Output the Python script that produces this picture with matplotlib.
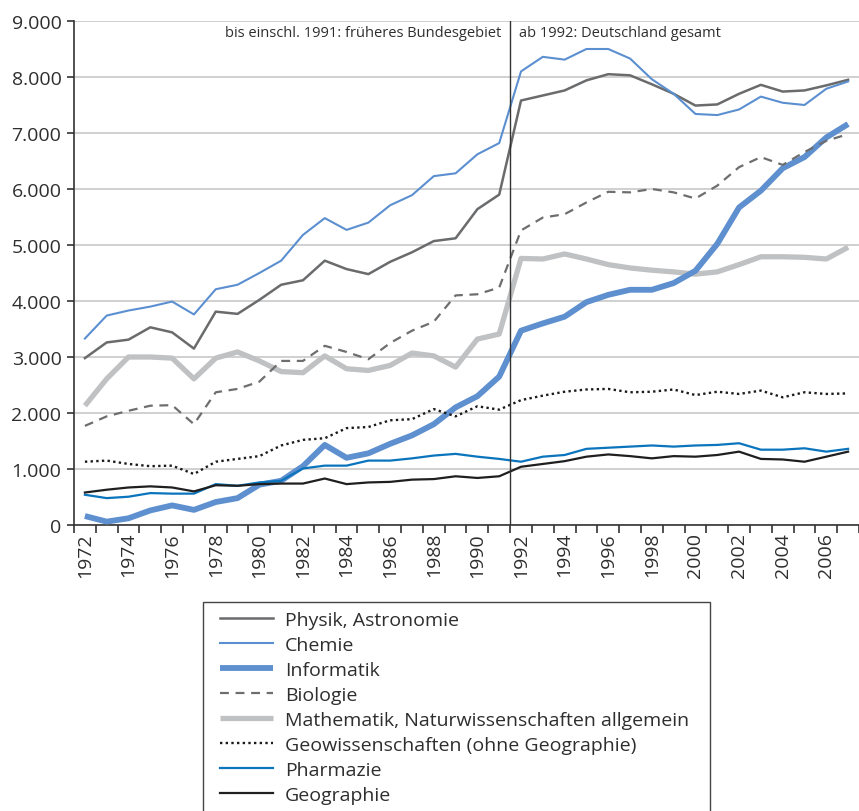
import matplotlib
matplotlib.use("Agg")
import matplotlib.pyplot as plt
from matplotlib.ticker import FuncFormatter, FixedLocator
from matplotlib.patches import Rectangle

plt.rcParams['font.family'] = ['Open Sans', 'DejaVu Sans']

years = list(range(1972, 2008))

physik = [2980, 3260, 3310, 3530, 3440, 3150, 3810, 3770, 4020, 4290, 4370, 4720,
          4570, 4480, 4700, 4870, 5070, 5120, 5640, 5900,
          7580, 7670, 7760, 7940, 8050, 8030, 7870, 7700, 7490, 7510, 7700, 7860,
          7740, 7760, 7850, 7950]
chemie = [3330, 3740, 3830, 3900, 3990, 3760, 4210, 4290, 4500, 4720, 5180, 5480,
          5270, 5400, 5710, 5890, 6230, 6280, 6620, 6820,
          8100, 8360, 8310, 8500, 8500, 8330, 7960, 7700, 7340, 7320, 7420, 7650,
          7540, 7500, 7790, 7920]
informatik = [160, 60, 120, 260, 350, 270, 410, 480, 720, 790, 1050, 1430,
              1200, 1280, 1450, 1600, 1800, 2100, 2300, 2650,
              3470, 3600, 3720, 3980, 4110, 4200, 4200, 4320, 4540, 5020, 5670, 5970,
              6370, 6570, 6920, 7160]
biologie = [1770, 1940, 2040, 2130, 2140, 1800, 2370, 2430, 2560, 2930, 2930, 3200,
            3090, 2960, 3250, 3470, 3630, 4100, 4120, 4240,
            5260, 5490, 5550, 5760, 5950, 5940, 6000, 5940, 5830, 6060, 6390, 6570,
            6430, 6660, 6860, 6980]
mathematik = [2130, 2610, 3000, 3000, 2980, 2610, 2980, 3090, 2930, 2740, 2720, 3020,
              2790, 2760, 2850, 3070, 3020, 2820, 3320, 3410,
              4760, 4750, 4840, 4750, 4650, 4590, 4550, 4520, 4480, 4520, 4650, 4790,
              4790, 4780, 4750, 4960]
geowiss = [1130, 1150, 1090, 1050, 1060, 910, 1130, 1180, 1230, 1420, 1520, 1550,
           1730, 1750, 1870, 1890, 2070, 1940, 2120, 2060,
           2230, 2310, 2380, 2420, 2430, 2370, 2380, 2420, 2320, 2380, 2340, 2400,
           2280, 2370, 2340, 2350]
pharmazie = [540, 480, 505, 570, 560, 560, 730, 700, 760, 790, 1010, 1060,
             1060, 1150, 1150, 1190, 1240, 1270, 1220, 1180,
             1130, 1220, 1250, 1360, 1380, 1400, 1420, 1400, 1420, 1430, 1460, 1345,
             1345, 1370, 1310, 1360]
geographie = [580, 630, 670, 690, 670, 600, 710, 700, 730, 740, 740, 830,
              730, 760, 770, 810, 820, 870, 840, 870,
              1040, 1090, 1140, 1220, 1260, 1230, 1190, 1230, 1220, 1250, 1310, 1180,
              1170, 1130, 1220, 1310]

labels = ["Physik, Astronomie", "Chemie", "Informatik", "Biologie",
          "Mathematik, Naturwissenschaften allgemein",
          "Geowissenschaften (ohne Geographie)", "Pharmazie", "Geographie"]

W, H = 859, 812
fig = plt.figure(figsize=(W/100, H/100), dpi=100)
ax = fig.add_axes([74/W, (H-526)/H, 785/W, 504/H])

x = list(range(len(years)))
txt = '#2e2e2e'

h_math, = ax.plot(x, mathematik, color='#c0c1c3', lw=3.8, solid_capstyle='butt', zorder=3)
h_inf, = ax.plot(x, informatik, color='#5e8fcf', lw=4.2, solid_capstyle='butt', zorder=4)
h_bio, = ax.plot(x, biologie, color='#6d6e70', lw=1.6, linestyle=(0, (4, 3)), zorder=5)
h_geo, = ax.plot(x, geowiss, color='#1a1a1a', lw=1.7, linestyle=(0, (1, 1.4)), zorder=5)
h_pha, = ax.plot(x, pharmazie, color='#0a74bd', lw=1.6, zorder=5)
h_gga, = ax.plot(x, geographie, color='#1f1f1f', lw=1.6, zorder=5)
h_phy, = ax.plot(x, physik, color='#6a6b6d', lw=1.8, zorder=6)
h_che, = ax.plot(x, chemie, color='#5b8fd0', lw=1.5, zorder=6)

ax.set_xlim(-0.5, len(years) - 0.5)
ax.set_ylim(0, 9000)
ax.set_yticks(range(0, 9001, 1000))
ax.yaxis.set_major_formatter(FuncFormatter(lambda v, p: f"{int(v):,}".replace(",", ".")))
ax.grid(axis='y', color='#c8c8c8', lw=1.2, zorder=0)
ax.set_axisbelow(True)

# ticks at category boundaries, labels at every other year
ax.xaxis.set_major_locator(FixedLocator([i - 0.5 for i in range(len(years) + 1)]))
ax.set_xticklabels([])
ax.set_xticks(x[::2], minor=True)
ax.set_xticklabels([str(y) for y in years[::2]], minor=True, rotation=90,
                   fontsize=14, color=txt)
ax.tick_params(axis='x', which='minor', length=0, pad=5)
ax.tick_params(axis='x', which='major', length=6, width=1.2, color='#333333', direction='out')
ax.tick_params(axis='y', length=5, width=1.2, color='#333333', labelsize=14,
               labelcolor=txt, pad=4)

for s in ['top', 'right']:
    ax.spines[s].set_visible(False)
for s in ['left', 'bottom']:
    ax.spines[s].set_color('#333333')
    ax.spines[s].set_linewidth(1.2)

# break line 1991/1992
ax.axvline(years.index(1992) - 0.5, color='#333333', lw=1.0, zorder=7)
ax.text(years.index(1992) - 0.5 - 0.4, 8800, "bis einschl. 1991: früheres Bundesgebiet",
        ha='right', va='center', fontsize=10.5, color=txt)
ax.text(years.index(1992) - 0.5 + 0.4, 8800, "ab 1992: Deutschland gesamt",
        ha='left', va='center', fontsize=10.5, color=txt)

# legend box (extends beyond the bottom edge of the figure)
fig.patches.append(Rectangle((203/W, -0.05), (710-203)/W, 0.05 + (H-603)/H,
                             transform=fig.transFigure, fill=False,
                             edgecolor='#444444', lw=1.0))

handles = [h_phy, h_che, h_inf, h_bio, h_math, h_geo, h_pha, h_gga]
leg = fig.legend(handles, labels, loc='upper left',
                 bbox_to_anchor=(211/W, 1 - 603/H), bbox_transform=fig.transFigure,
                 fontsize=14, frameon=False,
                 handlelength=2.73, handletextpad=0.62, labelspacing=0.36,
                 borderpad=0.45, borderaxespad=0)
for t in leg.get_texts():
    t.set_color(txt)

fig.savefig("out.png", dpi=100)
